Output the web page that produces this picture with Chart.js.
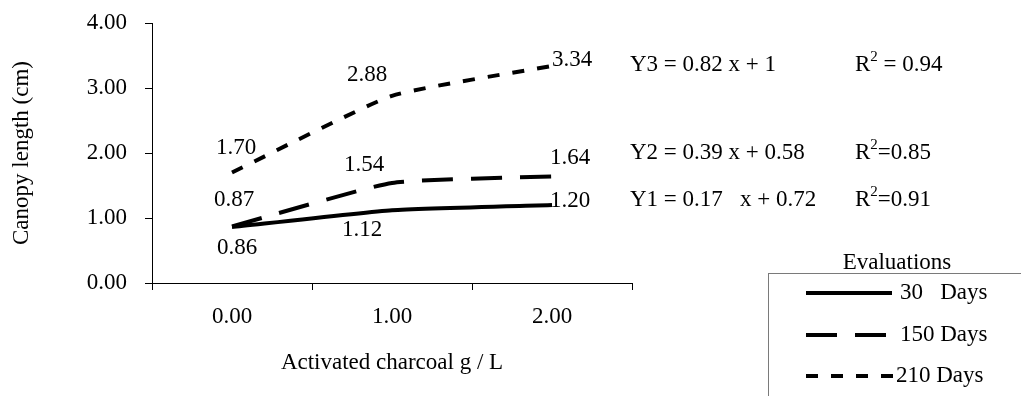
<!DOCTYPE html>
<html>
<head>
<meta charset="utf-8">
<script src="https://cdn.jsdelivr.net/npm/chart.js@4"></script>
<style>
  html, body { margin: 0; padding: 0; background: #fff; }
  #wrap { width: 1021px; height: 396px; position: relative; }
</style>
</head>
<body>
<div id="wrap"><canvas id="chart-canopy"></canvas></div>
<script>
/*  ===== DATA ===== */
const categories = ["0.00", "1.00", "2.00"];
const seriesNames = ["30   Days", "150 Days", "210 Days"];
const days30 = [0.86, 1.12, 1.2];
const days150 = [0.87, 1.54, 1.64];
const days210 = [1.7, 2.88, 3.34];
const yMin = 0;
const yMax = 4;
const yStep = 1;
const equations = ["Y3 = 0.82 x + 1", "Y2 = 0.39 x + 0.58", "Y1 = 0.17   x + 0.72"];
const r2Tails = [" = 0.94", "=0.85", "=0.91"];
/*  ================ */

const FONT = '"Liberation Serif", "Times New Roman", serif';
const FS = 23;
Chart.defaults.font.family = FONT;
Chart.defaults.font.size = FS;
Chart.defaults.color = "#000";

// смещение подписей значений от точки (центр текста), по сериям
const labelOffsets = [
  [[5, 21], [-30, 20], [18, -4]],
  [[2, -26], [-28, -18], [18, -18]],
  [[4, -25], [-25, -21], [20, -6]],
];

// уравнения: y центра строки
const eqRows = [65, 153, 200];

const valueLabels = {
  id: "valueLabels",
  afterDatasetsDraw(chart) {
    const { ctx } = chart;
    ctx.save();
    ctx.font = FS + "px " + FONT;
    ctx.fillStyle = "#000";
    ctx.textAlign = "center";
    ctx.textBaseline = "middle";
    chart.data.datasets.forEach((ds, i) => {
      const meta = chart.getDatasetMeta(i);
      meta.data.forEach((pt, j) => {
        const [dx, dy] = labelOffsets[i][j];
        ctx.fillText(ds.data[j].toFixed(2), pt.x + dx, pt.y + dy);
      });
    });
    ctx.restore();
  },
};

const equationText = {
  id: "equationText",
  afterDraw(chart) {
    const { ctx, chartArea } = chart;
    const x1 = chartArea.right - 2;
    const x2 = chartArea.right + 223;
    ctx.save();
    ctx.fillStyle = "#000";
    ctx.textBaseline = "middle";
    ctx.textAlign = "left";
    equations.forEach((eq, i) => {
      const y = eqRows[i];
      ctx.font = FS + "px " + FONT;
      ctx.fillText(eq, x1, y);
      ctx.fillText("R", x2, y);
      const rw = ctx.measureText("R").width;
      ctx.font = "15px " + FONT;
      ctx.fillText("2", x2 + rw, y - 8);
      const sw = ctx.measureText("2").width;
      ctx.font = FS + "px " + FONT;
      ctx.fillText(r2Tails[i], x2 + rw + sw, y);
    });
    ctx.restore();
  },
};

const boxLegend = {
  id: "boxLegend",
  afterDraw(chart) {
    const { ctx } = chart;
    const left = 768, top = 273;
    ctx.save();
    ctx.strokeStyle = "#7a7a7a";
    ctx.lineWidth = 1;
    ctx.strokeRect(left + 0.5, top + 0.5, 400, 200);

    ctx.fillStyle = "#000";
    ctx.font = FS + "px " + FONT;
    ctx.textAlign = "center";
    ctx.textBaseline = "middle";
    ctx.fillText("Evaluations", 897, 263);

    const rows = [293, 335, 376];
    ctx.textAlign = "left";
    chart.data.datasets.forEach((ds, i) => {
      const y = rows[i];
      ctx.beginPath();
      ctx.setLineDash(ds.borderDash || []);
      ctx.lineWidth = ds.borderWidth;
      ctx.strokeStyle = ds.borderColor;
      ctx.moveTo(806, y);
      ctx.lineTo(i === 2 ? 895 : 892, y);
      ctx.stroke();
      ctx.setLineDash([]);
      ctx.fillText(ds.label, i === 2 ? 896 : 900, y);
    });
    ctx.restore();
  },
};

const ctx = document.getElementById("chart-canopy").getContext("2d");

new Chart(ctx, {
  type: "line",
  data: {
    labels: categories,
    datasets: [
      { label: seriesNames[0], data: days30, borderDash: [] },
      { label: seriesNames[1], data: days150, borderDash: [31, 18] },
      { label: seriesNames[2], data: days210, borderDash: [12, 13] },
    ].map((d) => ({
      ...d,
      borderColor: "#000",
      borderWidth: 4,
      borderCapStyle: "butt",
      pointRadius: 0,
      pointHoverRadius: 0,
      fill: false,
      tension: 0.15,
    })),
  },
  plugins: [valueLabels, equationText, boxLegend],
  options: {
    responsive: true,
    maintainAspectRatio: false,
    animation: false,
    events: [],
    layout: { padding: { left: 0, right: 389, top: 23, bottom: 0 } },
    plugins: {
      legend: { display: false },
      tooltip: { enabled: false },
    },
    scales: {
      x: {
        type: "category",
        offset: true,
        afterFit(scale) {
          scale.height = 113;
          scale.paddingLeft = 0;
          scale.paddingRight = 0;
        },
        grid: {
          offset: true,
          drawOnChartArea: false,
          drawTicks: true,
          tickLength: 7,
          color: "#000",
        },
        border: { color: "#000", width: 1 },
        ticks: { padding: 13, color: "#000", maxRotation: 0 },
        title: {
          display: true,
          text: "Activated charcoal g / L",
          color: "#000",
          font: { size: FS },
          padding: { top: 0, bottom: 19 },
        },
      },
      y: {
        min: yMin,
        max: yMax,
        afterFit(scale) {
          scale.width = 152;
          scale.paddingTop = 0;
          scale.paddingBottom = 0;
        },
        grid: {
          drawOnChartArea: false,
          drawTicks: true,
          tickLength: 7,
          color: "#000",
        },
        border: { color: "#000", width: 1 },
        ticks: {
          stepSize: yStep,
          padding: 18,
          color: "#000",
          callback: (v) => Number(v).toFixed(2),
        },
        title: {
          display: true,
          text: "Canopy length (cm)",
          color: "#000",
          font: { size: FS },
          padding: { top: 8, bottom: 0 },
        },
      },
    },
  },
});
</script>
</body>
</html>
